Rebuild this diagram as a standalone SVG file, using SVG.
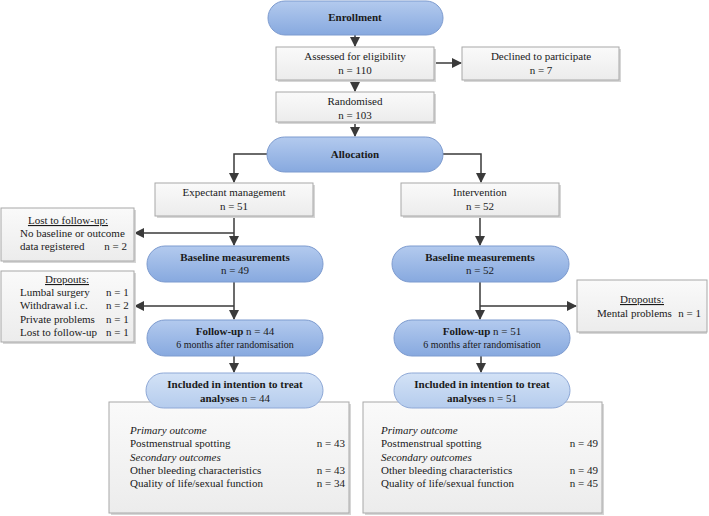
<svg xmlns="http://www.w3.org/2000/svg" width="709" height="516" viewBox="0 0 709 516">
<defs>
<linearGradient id="gp" x1="0" y1="0" x2="0" y2="1"><stop offset="0" stop-color="#b3caee"/><stop offset="1" stop-color="#87a9df"/></linearGradient>
<linearGradient id="gl" x1="0" y1="0" x2="0" y2="1"><stop offset="0" stop-color="#d3e2f6"/><stop offset="1" stop-color="#b5cced"/></linearGradient>
<linearGradient id="gb" x1="0" y1="0" x2="0" y2="1"><stop offset="0" stop-color="#fafafa"/><stop offset="1" stop-color="#ececec"/></linearGradient>
<marker id="ah" markerWidth="10" markerHeight="10" refX="9" refY="5" orient="auto" markerUnits="userSpaceOnUse"><path d="M0,0 L10,5 L0,10 Z" fill="#3a3a3a"/></marker>
<style>
text{font-family:"Liberation Serif","Times New Roman",serif;font-size:11px;fill:#1a1a1a}
.b{font-weight:bold}
.m{text-anchor:middle}
.e{text-anchor:end}
.i{font-style:italic}
.s{font-size:10px}
.u{text-decoration:underline}
.pill{fill:url(#gp);stroke:#7d9bcf;stroke-width:1}
.pl{fill:url(#gl);stroke:#8ea8d6;stroke-width:1}
.box{fill:url(#gb);stroke:#a8a8a8;stroke-width:1}
.sh{fill:#d6d6d6}
.c{fill:none;stroke:#3a3a3a;stroke-width:1.5}
</style>
</defs>
<rect width="709" height="516" fill="#ffffff"/>
<g id="connectors">
<path class="c" d="M355,35 V46" marker-end="url(#ah)"/>
<path class="c" d="M434,63 H461" marker-end="url(#ah)"/>
<path class="c" d="M355,80 V91" marker-end="url(#ah)"/>
<path class="c" d="M355,122 V136" marker-end="url(#ah)"/>
<path class="c" d="M267,154 H234 V182" marker-end="url(#ah)"/>
<path class="c" d="M443,154 H481 V182" marker-end="url(#ah)"/>
<path class="c" d="M234,216 V245" marker-end="url(#ah)"/>
<path class="c" d="M234,233 H135" marker-end="url(#ah)"/>
<path class="c" d="M234,282 V319" marker-end="url(#ah)"/>
<path class="c" d="M234,306 H135" marker-end="url(#ah)"/>
<path class="c" d="M234,356 V372" marker-end="url(#ah)"/>
<path class="c" d="M480,216 V245" marker-end="url(#ah)"/>
<path class="c" d="M480,282 V319" marker-end="url(#ah)"/>
<path class="c" d="M480,306 H576" marker-end="url(#ah)"/>
<path class="c" d="M481,356 V372" marker-end="url(#ah)"/>
</g>
<g id="enrollment"><rect class="pill" x="268" y="1" width="175" height="34" rx="17"/><text class="b m" x="355" y="21">Enrollment</text></g>
<g id="assessed"><rect class="sh" x="278" y="49" width="158" height="33"/><rect class="box" x="276" y="47" width="158" height="33"/><text class="m" x="355" y="60">Assessed for eligibility</text><text class="m" x="355" y="74">n = 110</text></g>
<g id="declined"><rect class="sh" x="464" y="49" width="157" height="33"/><rect class="box" x="462" y="47" width="157" height="33"/><text class="m" x="541" y="60">Declined to participate</text><text class="m" x="541" y="74">n = 7</text></g>
<g id="randomised"><rect class="sh" x="278" y="94" width="158" height="30"/><rect class="box" x="276" y="92" width="158" height="30"/><text class="m" x="355" y="105">Randomised</text><text class="m" x="355" y="119">n = 103</text></g>
<g id="allocation"><rect class="pill" x="267" y="137" width="176" height="35" rx="17.5"/><text class="b m" x="355" y="158">Allocation</text></g>
<g id="expectant"><rect class="sh" x="157" y="185" width="158" height="33"/><rect class="box" x="155" y="183" width="158" height="33"/><text class="m" x="234" y="196">Expectant management</text><text class="m" x="234" y="210">n = 51</text></g>
<g id="intervention"><rect class="sh" x="403" y="185" width="158" height="33"/><rect class="box" x="401" y="183" width="158" height="33"/><text class="m" x="480" y="196">Intervention</text><text class="m" x="480" y="210">n = 52</text></g>
<g id="lost"><rect class="sh" x="3" y="210" width="133" height="53"/><rect class="box" x="1" y="208" width="133" height="53"/><text class="m u" x="68" y="224">Lost to follow-up:</text><text x="20" y="237">No baseline or outcome</text><text x="20" y="250">data registered</text><text class="e" x="127" y="250">n = 2</text></g>
<g id="baseline-left"><rect class="pill" x="147" y="246" width="176" height="36" rx="18"/><text class="b m" x="235" y="261">Baseline measurements</text><text class="m" x="235" y="274">n = 49</text></g>
<g id="dropouts-left"><rect class="sh" x="3" y="273" width="133" height="71"/><rect class="box" x="1" y="271" width="133" height="71"/><text class="m u" x="67" y="283">Dropouts:</text><text x="20" y="296">Lumbal surgery</text><text x="106" y="296">n = 1</text><text x="20" y="309">Withdrawal i.c.</text><text x="106" y="309">n = 2</text><text x="20" y="323">Private problems</text><text x="106" y="323">n = 1</text><text x="20" y="336">Lost to follow-up</text><text x="106" y="336">n = 1</text></g>
<g id="followup-left"><rect class="pill" x="147" y="320" width="176" height="36" rx="18"/><text class="m" x="235" y="335"><tspan class="b">Follow-up</tspan> n = 44</text><text class="m s" x="235" y="348">6 months after randomisation</text></g>
<g id="outcome-left"><rect class="sh" x="111" y="404" width="240" height="111"/><rect class="box" x="109" y="402" width="240" height="111"/><text class="i" x="130" y="434">Primary outcome</text><text x="130" y="447">Postmenstrual spotting</text><text class="e" x="345" y="447">n = 43</text><text class="i" x="130" y="461">Secondary outcomes</text><text x="130" y="474">Other bleeding characteristics</text><text class="e" x="345" y="474">n = 43</text><text x="130" y="487">Quality of life/sexual function</text><text class="e" x="345" y="487">n = 34</text></g>
<g id="included-left"><rect class="pl" x="146" y="373" width="177" height="35" rx="17.5"/><text class="b m" x="235" y="388">Included in intention to treat</text><text class="m" x="235" y="402"><tspan class="b">analyses</tspan> n = 44</text></g>
<g id="baseline-right"><rect class="pill" x="392" y="246" width="177" height="36" rx="18"/><text class="b m" x="480" y="261">Baseline measurements</text><text class="m" x="480" y="274">n = 52</text></g>
<g id="dropouts-right"><rect class="sh" x="579" y="282" width="128" height="52"/><rect class="box" x="577" y="280" width="130" height="52"/><text class="m u" x="642" y="303">Dropouts:</text><text x="597" y="317">Mental problems</text><text class="e" x="701" y="317">n = 1</text></g>
<g id="followup-right"><rect class="pill" x="394" y="320" width="176" height="36" rx="18"/><text class="m" x="482" y="335"><tspan class="b">Follow-up</tspan> n = 51</text><text class="m s" x="482" y="348">6 months after randomisation</text></g>
<g id="outcome-right"><rect class="sh" x="365" y="404" width="239" height="111"/><rect class="box" x="363" y="402" width="239" height="111"/><text class="i" x="381" y="434">Primary outcome</text><text x="381" y="447">Postmenstrual spotting</text><text class="e" x="598" y="447">n = 49</text><text class="i" x="381" y="461">Secondary outcomes</text><text x="381" y="474">Other bleeding characteristics</text><text class="e" x="598" y="474">n = 49</text><text x="381" y="487">Quality of life/sexual function</text><text class="e" x="598" y="487">n = 45</text></g>
<g id="included-right"><rect class="pl" x="394" y="373" width="176" height="35" rx="17.5"/><text class="b m" x="482" y="388">Included in intention to treat</text><text class="m" x="482" y="402"><tspan class="b">analyses</tspan> n = 51</text></g>
</svg>
